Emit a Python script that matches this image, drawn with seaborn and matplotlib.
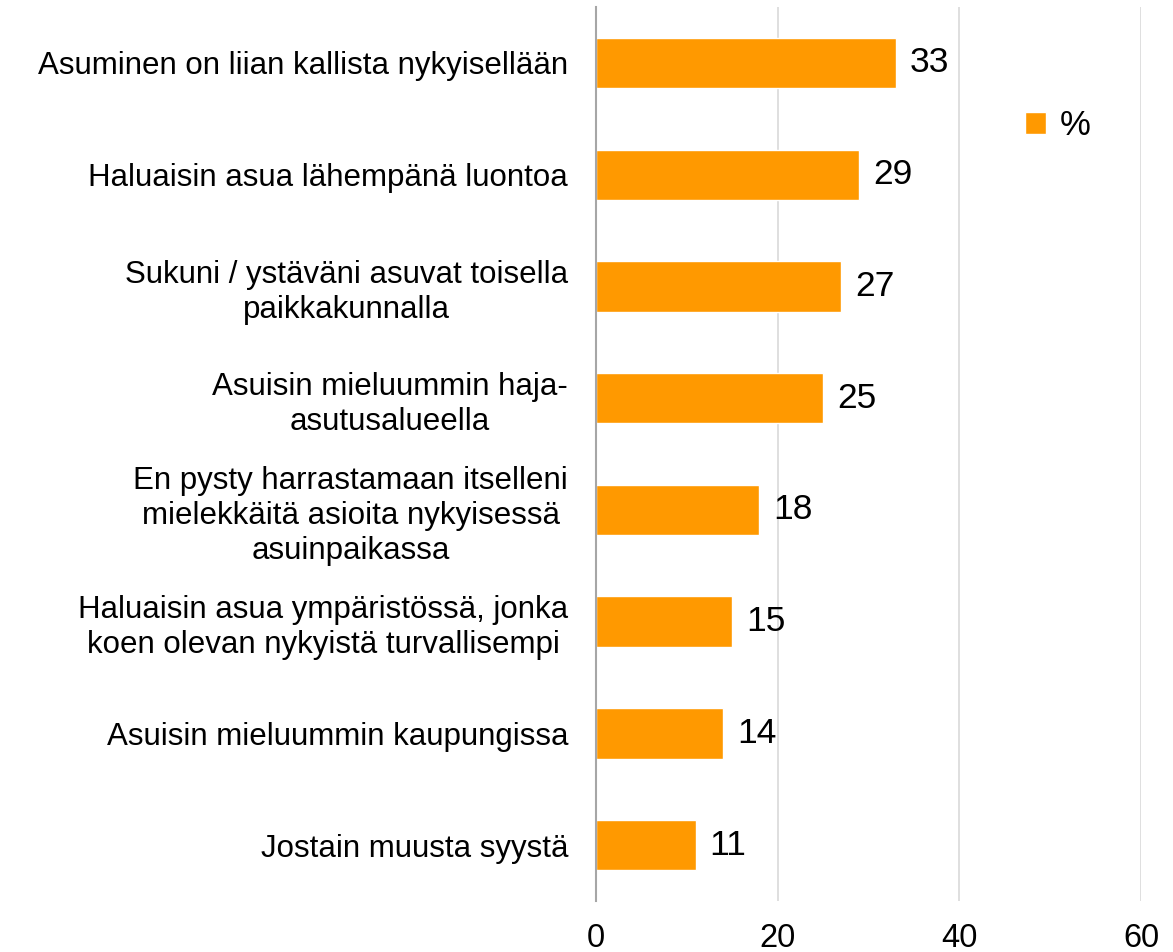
import seaborn as sns
import matplotlib.pyplot as plt
import pandas as pd

syyt = [
    'Asuminen on liian kallista nykyisellään',
    'Haluaisin asua lähempänä luontoa',
    'Sukuni / ystäväni asuvat toisella\npaikkakunnalla',
    'Asuisin mieluummin haja-\nasutusalueella',
    'En pysty harrastamaan itselleni\nmielekkäitä asioita nykyisessä\nasuinpaikassa',
    'Haluaisin asua ympäristössä, jonka\nkoen olevan nykyistä turvallisempi',
    'Asuisin mieluummin kaupungissa',
    'Jostain muusta syystä',
]
osuudet = [33, 29, 27, 25, 18, 15, 14, 11]
x_ticks = [0, 20, 40, 60]

df = pd.DataFrame({'syy': syyt, 'osuus': osuudet})

sns.set_style('white', {'text.color': 'black', 'xtick.color': 'black', 'ytick.color': 'black'})
plt.rcParams['font.family'] = ['Liberation Sans', 'DejaVu Sans']

fig = plt.figure(figsize=(11.73, 9.52), dpi=100)
ax = fig.add_axes([0.508, 0.0536, 0.9727 - 0.508, 0.9926 - 0.0536])

sns.barplot(data=df, x='osuus', y='syy', color='#FF9900', width=0.45,
            saturation=1, label='%', ax=ax)

ax.bar_label(ax.containers[0], fmt='%d', padding=10, fontsize=25.5, color='black')

ax.set_xlim(0, 60)
ax.set_ylim(7.5, -0.5)
ax.set_xticks(x_ticks)
ax.tick_params(axis='x', labelsize=23.5, pad=16, length=0, labelcolor='black')
ax.tick_params(axis='y', labelsize=22.5, pad=20, length=0, labelcolor='black')
for lbl in ax.get_yticklabels():
    lbl.set_multialignment('center')
    lbl.set_linespacing(1.22)

ax.grid(axis='x', color='#D9D9D9', linewidth=1.2)
ax.set_axisbelow(True)
for s in ['top', 'right', 'bottom']:
    ax.spines[s].set_visible(False)
ax.spines['left'].set_color('#A6A6A6')
ax.spines['left'].set_linewidth(1.5)
ax.spines['left'].set_zorder(5)

ax.set_xlabel('')
ax.set_ylabel('')

ax.legend(loc='center left', bbox_to_anchor=(0.874, 0.868), bbox_transform=fig.transFigure,
          frameon=False, fontsize=25, handlelength=0.6, handleheight=0.6,
          handletextpad=0.4, borderpad=0, borderaxespad=0)

plt.savefig('out.png', dpi=100)
